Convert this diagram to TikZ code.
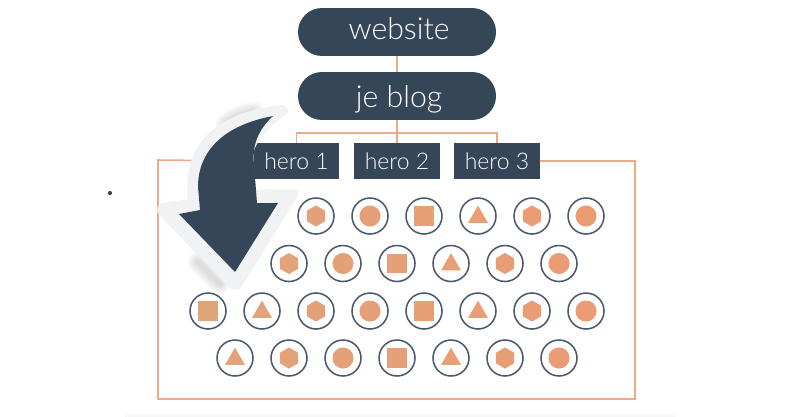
\documentclass[tikz,border=0pt]{standalone}
\usepackage{fontspec}
\setmainfont{Lato Light}
\usetikzlibrary{shapes.geometric}
\definecolor{darkslate}{HTML}{364659}
\definecolor{ringslate}{HTML}{4A5A6E}
\definecolor{peach}{HTML}{F0A987}
\definecolor{shapeL}{HTML}{E0A47B}
\definecolor{shapeR}{HTML}{EC9B73}
\definecolor{halo}{HTML}{F1F2F4}
\tikzset{
  pill/.style={fill=darkslate, rounded corners=17pt, minimum width=140.8pt, minimum height=34.1pt, inner sep=0pt, text=white, font=\fontsize{21.5}{21.5}\selectfont},
  hero/.style={fill=darkslate, minimum width=60.5pt, minimum height=25.6pt, inner sep=0pt, text=white, font=\fontsize{16.3}{17}\selectfont},
  link/.style={peach, line width=1.1pt},
  ring/.style={circle, draw=ringslate, line width=1.1pt, minimum size=25.6pt, inner sep=0pt},
  kind0/.style={rectangle, minimum size=13.6pt, inner sep=0pt},
  kind1/.style={regular polygon, regular polygon sides=3, minimum size=16.4pt, inner sep=0pt, yshift=-0.8pt},
  kind2/.style={regular polygon, regular polygon sides=6, shape border rotate=30, minimum size=15pt, inner sep=0pt},
  kind3/.style={circle, minimum size=15pt, inner sep=0pt},
  smudge/.style={black, opacity=0.018, line cap=round},
}
\newcommand{\arrowpath}{(273,116) .. controls (258,130) and (252,145) .. (254,165) -- (257,203) -- (278,203) -- (235,272) -- (179,214) -- (200,210) -- (198,187) .. controls (198,150) and (225,125) .. (273,116) -- cycle}
\newcommand{\halopath}{(281.7,105) .. controls (286,105) and (290,110) .. (287.3,113.3) .. controls (265,130) and (252,145) .. (252.7,160) -- (256,190) -- (291.7,189) .. controls (297,189) and (300,192) .. (298.3,195) -- (241.7,286.7) .. controls (239,291) and (231,292) .. (225,283.3) -- (159.3,215) .. controls (156,212) and (156,205) .. (163.3,202.7) -- (187.3,199.3) -- (187.3,186.7) .. controls (187,145) and (215,112) .. (281.7,105) -- cycle}
\begin{document}
\begin{tikzpicture}[x=0.025cm, y=-0.025cm]
\useasboundingbox (0,0) rectangle (800,416);

% faint band along the bottom
\fill[top color=white, bottom color=gray!6, draw=none] (125,411) rectangle (675,416);

% top of the tree
\node[pill, text depth=4.4pt] (website) at (397,32) {\hspace*{3pt}website};
\node[pill, text depth=0pt] (blog) at (397,96) {\hspace*{3pt}je blog};
\node[hero] (hero1) at (296.5,161) {hero 1};
\node[hero] (hero2) at (397,161) {hero 2};
\node[hero] (hero3) at (497,161) {hero 3};
\coordinate (bus) at (397,133);

\draw[link] (website) -- (blog);
\draw[link] (blog) -- (hero2);
\draw[link] (bus) -| (hero1);
\draw[link] (bus) -| (hero3);

% frame round the groups
\coordinate (frameTL) at (158,160);
\coordinate (frameBR) at (635,399);
\draw[link] (hero3.east) -- (frameBR |- hero3.east) -- (frameBR) -- (frameTL |- frameBR) -- (frameTL) -- (hero1.west);

% rows of circles
\foreach \r/\yy/\start/\skip/\count/\off in {1/216/208/2/7/0, 2/263.5/235/1/6/1, 3/311/208/0/7/0, 4/358/235/0/6/1} {
    \foreach \k in {\skip,...,\count} {
        \pgfmathsetmacro{\xx}{\start+54*\k}
        \pgfmathtruncatemacro{\kd}{mod(\k+\off,4)}
        \pgfmathtruncatemacro{\mixv}{(\xx-208)/3.78}
        \node[ring] (ring\r\k) at (\xx,\yy) {};
        \node[kind\kd, fill=shapeR!\mixv!shapeL] (item\r\k) at (ring\r\k) {};
    }
}

% soft shadow at both ends of the big arrow
\foreach \w in {3,5,7,9,11,13,15} {
    \draw[smudge, line width=\w pt] (226,124) .. controls (234,117) and (245,113) .. (254,112);
    \draw[smudge, line width=\w pt] (198,262) -- (220,284);
}
\fill[halo] \halopath;
\fill[darkslate] \arrowpath;

% the stray dot
\node[circle, fill=darkslate, minimum size=3pt, inner sep=0pt] (dot) at (110,193) {};
\end{tikzpicture}
\end{document}
